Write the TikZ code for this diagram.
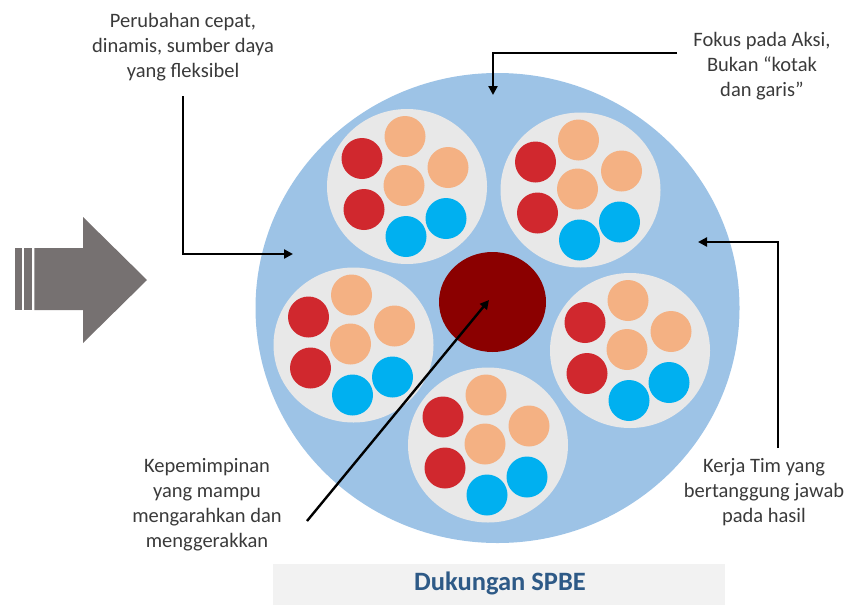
\documentclass[tikz,border=0pt]{standalone}
\usepackage{fontspec}
\setmainfont{Carlito}
\usetikzlibrary{arrows.meta,shapes.geometric}
\definecolor{bgblue}{HTML}{9DC3E6}
\definecolor{clgrey}{HTML}{E8E8E8}
\definecolor{pred}{HTML}{D0282E}
\definecolor{porange}{HTML}{F4B183}
\definecolor{pblue}{HTML}{00B0F0}
\definecolor{corered}{HTML}{8B0000}
\definecolor{arrowgrey}{HTML}{767171}
\definecolor{bargrey}{HTML}{F2F2F2}
\definecolor{titleblue}{HTML}{2E5A87}
\definecolor{txtgrey}{HTML}{3A3A3A}
\tikzset{
  conn/.style={line width=2.4pt, -{Triangle[length=9pt,width=9pt]}},
  note/.style={align=center, text=txtgrey, font=\fontsize{20.5}{25}\selectfont, inner sep=0pt},
}
\begin{document}
\begin{tikzpicture}[x=1pt,y=-1pt]
\useasboundingbox (0,0) rectangle (850,605);
% big background
\fill[bgblue] (497.5,308) ellipse[x radius=242pt, y radius=235pt];
% clusters
\foreach \cx/\cy [count=\i] in {407/186.5, 580.5/190, 353.5/345, 630/350.5, 488/445} {
  \fill[clgrey] (\cx,\cy) ellipse[x radius=80pt, y radius=77.5pt];
  \foreach \dx/\dy/\c in {-2/-50/porange, -45/-28/pred, 41/-19/porange, -3/-1/porange, -43/23/pred, 39/32/pblue, -1/50/pblue}
    \fill[\c] ({\cx+\dx},{\cy+\dy}) circle[radius=20.5pt];
}
% core
\node[ellipse, fill=corered, minimum width=107pt, minimum height=100pt, inner sep=0pt] (core) at (492.5,302) {};
% big grey arrow
\fill[arrowgrey] (15,248) rectangle (21.7,310);
\fill[arrowgrey] (24,248) rectangle (31.7,310);
\fill[arrowgrey] (34.3,248) -- (83,248) -- (83,217) -- (147,280) -- (83,343) -- (83,310) -- (34.3,310) -- cycle;
% bottom bar
\fill[bargrey] (273,564) rectangle (725,605);
\node[text=titleblue, font=\fontsize{26.5}{30}\selectfont\bfseries] (title) at (500,583) {Dukungan SPBE};
% notes
\node[note] (n1) at (183,47) {Perubahan cepat,\\dinamis, sumber daya\\yang fleksibel};
\node[note] (n2) at (762,66) {Fokus pada Aksi,\\Bukan “kotak\\dan garis”};
\node[note] (n3) at (764,492) {Kerja Tim yang\\bertanggung jawab\\pada hasil};
\node[note] (n4) at (207,505) {Kepemimpinan\\yang mampu\\mengarahkan dan\\menggerakkan};
% connectors
\coordinate (a1) at (293,254);
\coordinate (a2s) at (677,53);
\coordinate (a2) at (493,95);
\coordinate (a3s) at (778,448);
\coordinate (a3) at (698,242);
\coordinate (a4s) at (307,521);
\coordinate (a4) at (489,300);
\draw[conn] ([yshift=-15pt]n1.south) |- (a1);
\draw[conn] (a2s) -| (a2);
\draw[conn] (a3s) |- (a3);
\draw[conn] (a4s) -- (a4);
\end{tikzpicture}
\end{document}
